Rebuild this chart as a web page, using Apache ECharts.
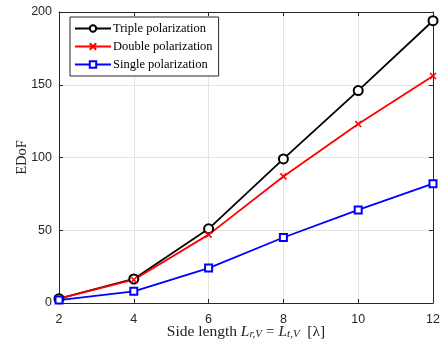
<!DOCTYPE html>
<html>
<head>
<meta charset="utf-8">
<script src="https://cdn.jsdelivr.net/npm/echarts@6/dist/echarts.min.js"></script>
<style>
  html, body {margin: 0; padding: 0; background: #fff;}
  #chart {width: 440px; height: 345px;}
</style>
</head>
<body>
<div id="chart"></div>
<script>
const sideLength = [2, 4, 6, 8, 10, 12];
const triple = [3, 16.5, 51, 99, 146, 194];
const double = [3, 16, 47, 87, 123, 156];
const single = [2, 8, 24, 45, 64, 82];
const serif = '"Liberation Serif", "DejaVu Serif", serif';
const sans = '"Liberation Sans", Arial, sans-serif';
const axisColor = '#262626';

const crossPath = 'path://M0,0L10,10M10,0L0,10';

const chart = echarts.init(document.getElementById('chart'));

const baseAxis = {
  axisLine: {show: true, onZero: false, lineStyle: {color: axisColor, width: 1}},
  axisTick: {show: true, inside: true, length: 4, lineStyle: {color: axisColor}},
};

const mkSeries = (name, data, color, symbol, size) => ({
  name,
  type: 'line',
  data: sideLength.map((x, i) => [x, data[i]]),
  symbol,
  symbolSize: size,
  showAllSymbol: true,
  lineStyle: {color, width: 1.8},
  itemStyle: {color, borderColor: color, borderWidth: 1.6},
  emphasis: {disabled: true},
});

chart.setOption({
  animation: false,
  grid: {left: 59, right: 7, top: 12, bottom: 42, containLabel: false, outerBoundsMode: 'none'},
  legend: {
    orient: 'vertical',
    left: 70,
    top: 17,
    padding: [5, 6, 5, 4],
    itemGap: 5,
    itemWidth: 36,
    itemHeight: 8,
    borderColor: axisColor,
    borderWidth: 1,
    backgroundColor: '#fff',
    textStyle: {fontFamily: serif, fontSize: 12.5, color: '#000', padding: [0, 0, 0, -3]},
    data: ['Triple polarization', 'Double polarization', 'Single polarization'],
  },
  xAxis: [{
    ...baseAxis,
    type: 'value',
    min: 2, max: 12, interval: 2,
    name: '{t|Side length }{i|L}{s|r,V}{t| = }{i|L}{s|t,V}{t|  [λ]}',
    nameLocation: 'middle',
    nameGap: 20,
    nameMoveOverlap: false,
    nameTextStyle: {
      rich: {
        t: {fontFamily: serif, fontSize: 15.5, color: '#222'},
        i: {fontFamily: serif, fontSize: 15.5, fontStyle: 'italic', color: '#222'},
        s: {fontFamily: serif, fontSize: 11, fontStyle: 'italic', color: '#222', padding: [6, 0, 0, 0]},
      },
    },
    axisLabel: {fontFamily: sans, fontSize: 12.5, color: axisColor, margin: 10},
    splitLine: {show: true, lineStyle: {color: '#e3e3e3', width: 1}},
  }, {
    ...baseAxis,
    type: 'value',
    position: 'top',
    min: 2, max: 12, interval: 2,
    axisLabel: {show: false},
    splitLine: {show: false},
  }],
  yAxis: [{
    ...baseAxis,
    type: 'value',
    min: 0, max: 200, interval: 50,
    name: 'EDoF',
    nameLocation: 'middle',
    nameGap: 29,
    nameMoveOverlap: false,
    nameTextStyle: {fontFamily: serif, fontSize: 14.5, color: '#222'},
    axisLabel: {fontFamily: sans, fontSize: 12.5, color: axisColor, margin: 7},
    splitLine: {show: true, lineStyle: {color: '#e3e3e3', width: 1}},
  }, {
    ...baseAxis,
    type: 'value',
    position: 'right',
    min: 0, max: 200, interval: 50,
    axisLabel: {show: false},
    splitLine: {show: false},
  }],
  series: [
    mkSeries('Triple polarization', triple, '#000000', 'emptyCircle', 9),
    mkSeries('Double polarization', double, '#ff0000', crossPath, 6),
    mkSeries('Single polarization', single, '#0000ff', 'emptyRect', 7),
  ],
});
</script>
</body>
</html>
